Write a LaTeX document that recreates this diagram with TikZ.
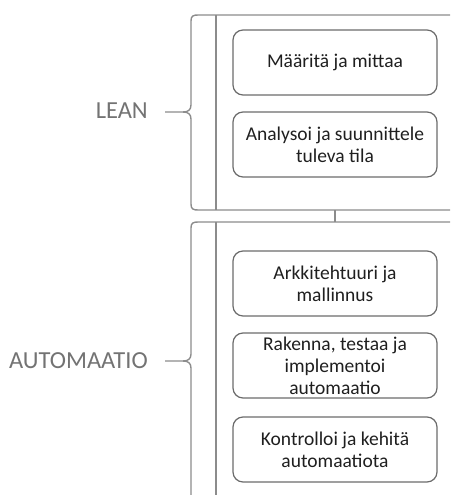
\documentclass[tikz,border=0pt]{standalone}
\usepackage{fontspec}
\setmainfont{Carlito}
\begin{document}
\begin{tikzpicture}[x=1pt,y=-1pt,
  frameline/.style={draw=black!45, line width=1.4pt},
  stepbox/.style={draw=black!58, line width=1.2pt, rounded corners=10pt,
    minimum width=204pt, minimum height=65pt, align=center,
    font=\fontsize{19.5}{22}\selectfont, text=black!88, inner sep=0pt},
  phase/.style={font=\fontsize{24.5}{28}\selectfont, text=black!55, anchor=east, inner sep=0pt}]
\useasboundingbox (0,0) rectangle (450,495);

% LEAN frame: curly bracket, top/bottom rules and inner divider
\draw[frameline] (450,15) -- (198,15) .. controls (193,15) and (191,16) .. (191,21)
  -- (191,105) .. controls (191,110) and (188,112) .. (183,112) -- (165,112);
\draw[frameline] (183,112) .. controls (188,112) and (191,114) .. (191,119)
  -- (191,204) .. controls (191,209) and (193,210) .. (198,210) -- (450,210);
\draw[frameline] (216,15) -- (216,210);

% AUTOMAATIO frame
\draw[frameline] (450,222) -- (198,222) .. controls (193,222) and (191,223) .. (191,228)
  -- (191,354) .. controls (191,359) and (188,361) .. (183,361) -- (165,361);
\draw[frameline] (183,361) .. controls (188,361) and (191,363) .. (191,368)
  -- (191,500);
\draw[frameline] (216,222) -- (216,500);

% link between the two frames
\coordinate (leanbottom) at (335,210);
\coordinate (autotop) at (335,222);
\draw[frameline] (leanbottom) -- (autotop);

% phase labels
\node[phase] (lean) at (148,111) {LEAN};
\node[phase] (auto) at (148,361) {AUTOMAATIO};

% steps
\node[stepbox] (s1) at (335,62.5) {Määritä ja mittaa};
\node[stepbox] (s2) at (335,144.5) {Analysoi ja suunnittele\\tuleva tila};
\node[stepbox] (s3) at (335,283.5) {Arkkitehtuuri ja\\mallinnus};
\node[stepbox] (s4) at (335,365.5) {Rakenna, testaa ja\\implementoi\\automaatio};
\node[stepbox] (s5) at (335,449.5) {Kontrolloi ja kehitä\\automaatiota};
\end{tikzpicture}
\end{document}
